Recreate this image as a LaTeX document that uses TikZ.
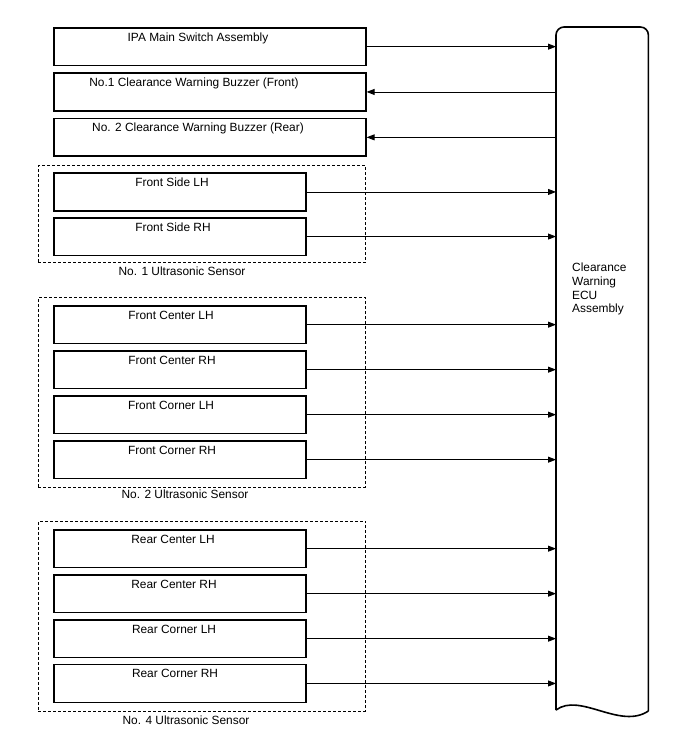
\documentclass[tikz,border=0pt]{standalone}
\usepackage{fontspec}
\setmainfont{Liberation Sans}
\usetikzlibrary{arrows.meta}
\begin{document}
\begin{tikzpicture}[x=1pt,y=-1pt,
  box/.style={draw, line width=1.6pt, anchor=north west, inner sep=0pt, minimum height=37.7pt},
  wide/.style={box, minimum width=312pt},
  sens/.style={box, minimum width=252pt},
  grp/.style={draw, line width=0.9pt, dash pattern=on 3pt off 2pt, anchor=north west, inner sep=0pt},
  txt/.style={anchor=base, inner sep=0pt, font=\fontsize{11.9}{13.7}\selectfont},
  arr/.style={line width=0.9pt, -{Triangle[length=8pt,width=6pt]}},
  ecubody/.style={line width=1.6pt}]
\useasboundingbox (0,0) rectangle (688,755);

% top boxes
\node[wide] (ipa) at (53,27) {};
\node[txt] (ipat) at (198,41) {IPA Main Switch Assembly};
\node[wide] (bz1) at (53,72.3) {};
\node[txt] (bz1t) at (194,86.3) {No.1 Clearance Warning Buzzer (Front)};
\node[wide] (bz2) at (53,117.7) {};
\node[txt] (bz2t) at (198,131.7) {No. 2 Clearance Warning Buzzer (Rear)};

% group 1
\node[grp, minimum width=327pt, minimum height=97.3pt] (g1) at (38,165) {};
\node[sens] (fsl) at (53,172.3) {};
\node[txt] (fslt) at (172,186.5) {Front Side LH};
\node[sens] (fsr) at (53,216.9) {};
\node[txt] (fsrt) at (173,231) {Front Side RH};
\node[txt] (g1t) at (182,275) {No. 1 Ultrasonic Sensor};

% group 2
\node[grp, minimum width=327pt, minimum height=189.4pt] (g2) at (38,297.3) {};
\node[sens] (fcl) at (53,305) {};
\node[txt] (fclt) at (171,319) {Front Center LH};
\node[sens] (fcr) at (53,350) {};
\node[txt] (fcrt) at (172,364) {Front Center RH};
\node[sens] (fkl) at (53,395) {};
\node[txt] (fklt) at (171,409) {Front Corner LH};
\node[sens] (fkr) at (53,440) {};
\node[txt] (fkrt) at (172,454) {Front Corner RH};
\node[txt] (g2t) at (185,498) {No. 2 Ultrasonic Sensor};

% group 3
\node[grp, minimum width=327pt, minimum height=190.2pt] (g3) at (38,520.5) {};
\node[sens] (rcl) at (53,529) {};
\node[txt] (rclt) at (173,543) {Rear Center LH};
\node[sens] (rcr) at (53,574) {};
\node[txt] (rcrt) at (174,588) {Rear Center RH};
\node[sens] (rkl) at (53,619) {};
\node[txt] (rklt) at (174,633) {Rear Corner LH};
\node[sens] (rkr) at (53,663.8) {};
\node[txt] (rkrt) at (175,677.8) {Rear Corner RH};
\node[txt] (g3t) at (186,724) {No. 4 Ultrasonic Sensor};

% ECU
\node[anchor=north west, inner sep=0pt, minimum width=92pt, minimum height=683pt] (ecu) at (556,27) {};
\draw[ecubody, rounded corners=8pt] (ecu.north west |- 0,710) -- (ecu.north west) -- (ecu.north east) -- (ecu.north east |- 0,711);
\draw[ecubody] (ecu.north east |- 0,711) .. controls (620,730) and (580,692) .. (ecu.north west |- 0,710);
\node[anchor=north west, inner sep=0pt, align=left, font=\fontsize{11.9}{13.7}\selectfont] (ecut) at (572,263) {Clearance\\Warning\\ECU\\Assembly};

% connectors
\draw[arr] (ipa.east) -- (ecu.west |- ipa.east);
\draw[arr] (ecu.west |- bz1.east) -- (bz1.east);
\draw[arr] (ecu.west |- bz2.east) -- (bz2.east);
\foreach \n in {fsl,fsr,fcl,fcr,fkl,fkr,rcl,rcr,rkl,rkr}
  \draw[arr] (\n.east) -- (ecu.west |- \n.east);
\end{tikzpicture}
\end{document}
